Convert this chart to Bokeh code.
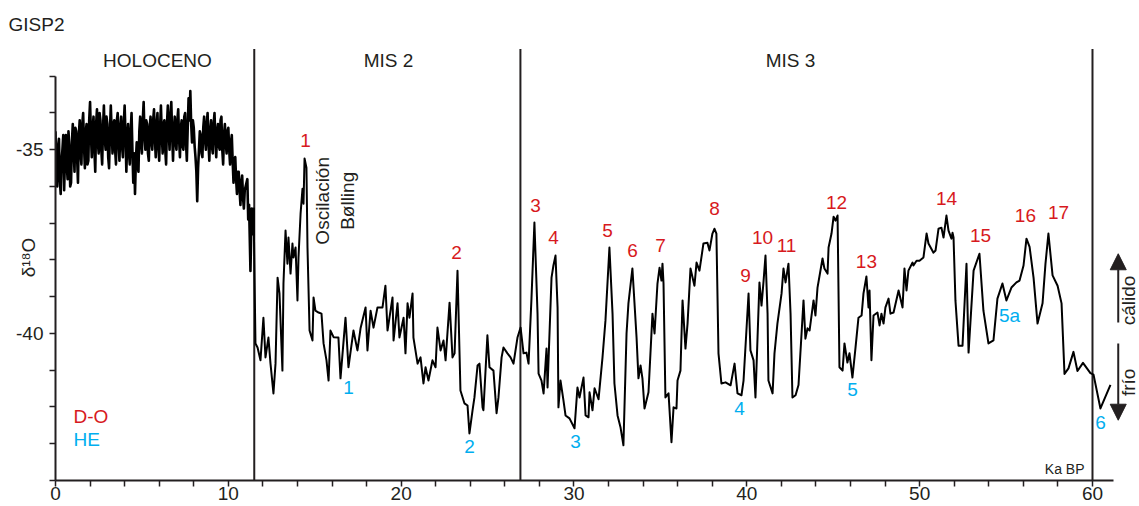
from bokeh.plotting import figure
from bokeh.models import Range1d, FixedTicker, Arrow, NormalHead
from bokeh.core.properties import value
from bokeh.embed import file_html
from bokeh.resources import INLINE

# ---------------- data ----------------
holo_age = [0.00, 0.05, 0.10, 0.15, 0.20, 0.25, 0.30, 0.35, 0.40, 0.45,
            0.50, 0.55, 0.60, 0.65, 0.70, 0.75, 0.80, 0.85, 0.90, 0.95,
            1.00, 1.05, 1.10, 1.15, 1.20, 1.25, 1.30, 1.35, 1.40, 1.45,
            1.50, 1.55, 1.60, 1.65, 1.70, 1.75, 1.80, 1.85, 1.90, 1.95,
            2.00, 2.05, 2.10, 2.15, 2.20, 2.25, 2.30, 2.35, 2.40, 2.45,
            2.50, 2.55, 2.60, 2.65, 2.70, 2.75, 2.80, 2.85, 2.90, 2.95,
            3.00, 3.05, 3.10, 3.15, 3.20, 3.25, 3.30, 3.35, 3.40, 3.45,
            3.50, 3.55, 3.60, 3.65, 3.70, 3.75, 3.80, 3.85, 3.90, 3.95,
            4.00, 4.05, 4.10, 4.15, 4.20, 4.25, 4.30, 4.35, 4.40, 4.45,
            4.50, 4.55, 4.60, 4.65, 4.70, 4.75, 4.80, 4.85, 4.90, 4.95,
            5.00, 5.05, 5.10, 5.15, 5.20, 5.25, 5.30, 5.35, 5.40, 5.45,
            5.50, 5.55, 5.60, 5.65, 5.70, 5.75, 5.80, 5.85, 5.90, 5.95,
            6.00, 6.05, 6.10, 6.15, 6.20, 6.25, 6.30, 6.35, 6.40, 6.45,
            6.50, 6.55, 6.60, 6.65, 6.70, 6.75, 6.80, 6.85, 6.90, 6.95,
            7.00, 7.05, 7.10, 7.15, 7.20, 7.25, 7.30, 7.35, 7.40, 7.45,
            7.50, 7.55, 7.60, 7.65, 7.70, 7.75, 7.80, 7.85, 7.90, 7.95,
            8.00, 8.05, 8.10, 8.15, 8.20, 8.25, 8.30, 8.35, 8.40, 8.45,
            8.50, 8.55, 8.60, 8.65, 8.70, 8.75, 8.80, 8.85, 8.90, 8.95,
            9.00, 9.05, 9.10, 9.15, 9.20, 9.25, 9.30, 9.35, 9.40, 9.45,
            9.50, 9.55, 9.60, 9.65, 9.70, 9.75, 9.80, 9.85, 9.90, 9.95,
            10.00, 10.05, 10.10, 10.15, 10.20, 10.25, 10.30, 10.35, 10.40, 10.45,
            10.50, 10.55, 10.60, 10.65, 10.70, 10.75, 10.80, 10.85, 10.90, 10.95,
            11.00, 11.10, 11.15, 11.20, 11.28, 11.35, 11.42]
holo_d18o = [-34.5, -35.6, -36.0, -34.9, -34.7, -35.8, -36.2, -35.3, -35.0, -34.6,
             -36.1, -35.2, -34.6, -35.4, -35.8, -34.5, -34.9, -36.0, -35.9, -34.8,
             -34.3, -35.0, -35.6, -34.4, -34.5, -35.2, -35.9, -34.6, -34.2, -35.1,
             -35.4, -34.3, -34.0, -34.9, -35.5, -34.5, -34.3, -35.4, -35.3, -34.2,
             -33.7, -34.6, -35.2, -34.4, -34.1, -35.0, -35.6, -34.3, -33.9, -34.8,
             -35.1, -34.0, -34.2, -35.0, -35.4, -34.4, -33.8, -34.7, -35.0, -34.1,
             -34.3, -35.2, -35.5, -34.5, -33.8, -34.5, -35.1, -34.3, -34.2, -35.0,
             -35.4, -34.2, -34.0, -34.8, -35.3, -34.4, -34.1, -34.9, -35.2, -34.3,
             -33.8, -34.6, -35.6, -34.7, -34.3, -35.1, -35.4, -34.5, -34.0, -35.0,
             -35.9, -35.1, -36.2, -35.3, -34.8, -35.4, -35.6, -34.5, -34.1, -34.8,
             -35.1, -34.2, -33.7, -34.6, -35.0, -34.2, -34.3, -35.1, -35.3, -34.4,
             -34.1, -34.8, -35.0, -34.2, -33.9, -34.7, -35.2, -34.3, -34.0, -34.9,
             -35.3, -34.4, -33.8, -34.6, -35.1, -34.3, -34.2, -35.0, -35.4, -34.3,
             -33.8, -34.5, -35.0, -34.1, -33.7, -34.6, -35.3, -34.5, -34.1, -34.8,
             -35.0, -34.2, -33.9, -34.7, -35.2, -34.4, -34.2, -34.9, -35.0, -34.1,
             -34.0, -34.8, -35.3, -34.4, -33.6, -34.2, -33.4, -34.3, -34.8, -34.2,
             -34.4, -34.9, -35.2, -35.6, -36.4, -35.5, -35.0, -34.5, -34.6, -35.1,
             -35.2, -34.4, -34.1, -34.7, -35.0, -34.3, -34.0, -34.8, -35.3, -34.5,
             -34.2, -34.9, -35.1, -34.3, -34.0, -34.7, -35.2, -34.5, -34.3, -34.9,
             -35.0, -34.2, -34.1, -35.0, -35.4, -34.6, -34.3, -34.8, -35.1, -34.5,
             -34.4, -35.0, -35.4, -34.8, -34.6, -35.3, -35.9, -35.3, -35.2, -35.8,
             -36.2, -35.6, -35.6, -36.1, -36.5, -35.9, -35.7, -36.3, -36.6, -36.1,
             -36.0, -35.8, -36.9, -36.5, -38.3, -36.6, -37.3]

glacial_age = [11.46, 11.57, 11.69, 11.86, 12.03, 12.15, 12.32, 12.44, 12.61, 12.73,
               12.85, 12.96, 13.13, 13.19, 13.31, 13.42, 13.48, 13.60, 13.71, 13.77,
               13.89, 14.00, 14.06, 14.18, 14.29, 14.35, 14.41, 14.52, 14.58, 14.70,
               14.87, 14.93, 15.04, 15.22, 15.39, 15.51, 15.68, 15.80, 15.91, 16.09,
               16.37, 16.49, 16.78, 16.95, 17.24, 17.47, 17.65, 17.94, 18.05, 18.23,
               18.40, 18.63, 18.92, 19.09, 19.21, 19.50, 19.56, 19.79, 19.90, 20.14,
               20.25, 20.37, 20.48, 20.66, 20.71, 20.95, 21.12, 21.29, 21.41, 21.58,
               21.81, 21.99, 22.10, 22.28, 22.45, 22.57, 22.80, 22.97, 23.09, 23.26,
               23.43, 23.66, 23.84, 23.95, 24.13, 24.24, 24.42, 24.53, 24.71, 24.76,
               24.99, 25.11, 25.34, 25.52, 25.63, 25.81, 25.92, 26.15, 26.33, 26.50,
               26.73, 26.91, 27.08, 27.25, 27.37, 27.54, 27.71, 27.89, 27.95, 28.12,
               28.24, 28.41, 28.47, 28.70, 28.81, 28.93, 29.05, 29.10, 29.22, 29.39,
               29.51, 29.74, 30.03, 30.20, 30.32, 30.55, 30.67, 30.84, 30.90, 31.07,
               31.19, 31.42, 31.65, 31.82, 32.05, 32.23, 32.34, 32.52, 32.69, 32.86,
               33.04, 33.15, 33.38, 33.62, 33.73, 33.85, 33.96, 34.08, 34.31, 34.54,
               34.66, 34.83, 34.95, 35.06, 35.12, 35.18, 35.29, 35.47, 35.64, 35.76,
               35.93, 35.99, 36.16, 36.28, 36.45, 36.57, 36.74, 36.97, 37.09, 37.26,
               37.49, 37.72, 37.84, 38.01, 38.13, 38.24, 38.36, 38.53, 38.77, 39.06,
               39.29, 39.46, 39.69, 39.81, 40.10, 40.21, 40.39, 40.50, 40.62, 40.73,
               40.85, 40.97, 41.08, 41.20, 41.25, 41.49, 41.60, 41.77, 42.01, 42.12,
               42.24, 42.41, 42.53, 42.64, 42.82, 42.99, 43.28, 43.39, 43.51, 43.63,
               43.86, 43.97, 44.09, 44.38, 44.49, 44.67, 44.73, 44.90, 45.02, 45.13,
               45.25, 45.36, 45.54, 45.65, 45.82, 45.94, 46.11, 46.29, 46.46, 46.64,
               46.75, 46.92, 47.04, 47.10, 47.21, 47.33, 47.56, 47.68, 47.79, 47.91,
               48.02, 48.20, 48.31, 48.49, 48.78, 49.01, 49.12, 49.24, 49.35, 49.59,
               49.64, 49.82, 49.99, 50.22, 50.40, 50.51, 50.80, 50.92, 51.09, 51.26,
               51.38, 51.55, 51.67, 51.84, 51.90, 51.96, 52.07, 52.25, 52.48, 52.71,
               52.83, 53.12, 53.46, 53.69, 53.98, 54.27, 54.50, 54.79, 55.02, 55.31,
               55.60, 55.78, 56.01, 56.18, 56.36, 56.59, 56.82, 57.11, 57.28, 57.45,
               57.69, 57.98, 58.21, 58.38, 58.61, 58.90, 59.13, 59.45, 59.88, 60.06,
               60.46, 61.04]
glacial_d18o = [-36.58, -40.27, -40.38, -40.73, -39.57, -40.65, -40.11, -40.82, -41.63, -40.82,
                -38.48, -38.91, -41.01, -38.64, -37.20, -38.10, -37.39, -38.37, -37.55, -37.93,
                -37.66, -39.10, -37.93, -36.74, -36.06, -36.47, -35.24, -35.49, -37.66, -39.92,
                -40.19, -39.02, -39.38, -39.43, -39.46, -40.27, -40.73, -41.28, -39.92, -40.10,
                -40.11, -41.22, -39.57, -40.92, -39.92, -40.46, -39.86, -39.29, -40.46, -39.38,
                -39.84, -39.29, -39.29, -38.70, -39.92, -39.02, -40.19, -39.18, -40.11, -39.57,
                -40.54, -39.18, -39.57, -38.91, -40.11, -40.82, -40.65, -41.36, -40.92, -41.28,
                -40.73, -40.92, -39.84, -40.46, -40.19, -40.73, -39.16, -40.65, -40.54, -38.29,
                -41.55, -41.90, -41.96, -42.72, -42.09, -41.74, -40.87, -40.82, -42.01, -42.09,
                -40.05, -40.92, -41.01, -42.17, -41.74, -40.65, -40.38, -40.54, -40.65, -40.82,
                -40.11, -39.84, -40.54, -40.52, -40.82, -39.05, -36.98, -39.46, -41.09, -41.28,
                -41.63, -40.41, -41.47, -38.48, -38.15, -37.88, -39.29, -42.01, -41.28, -41.82,
                -42.23, -42.31, -42.58, -41.47, -41.74, -41.20, -42.23, -42.28, -41.60, -42.09,
                -41.49, -41.79, -40.65, -39.65, -37.66, -39.46, -41.36, -42.23, -42.55, -43.04,
                -40.00, -39.18, -38.23, -40.11, -41.22, -40.87, -41.22, -42.04, -41.60, -39.46,
                -40.00, -38.64, -38.21, -38.56, -38.10, -38.64, -41.74, -41.63, -42.96, -42.01,
                -42.04, -41.28, -41.01, -39.10, -40.41, -39.73, -38.23, -38.70, -38.07, -38.29,
                -37.55, -37.53, -37.74, -37.28, -37.15, -37.28, -40.54, -41.36, -41.33, -41.41,
                -40.82, -41.63, -41.68, -41.28, -38.91, -40.46, -40.73, -41.74, -40.11, -38.61,
                -39.24, -38.56, -37.88, -39.46, -41.28, -41.63, -40.54, -39.73, -38.91, -38.23,
                -38.61, -38.10, -39.46, -41.74, -41.68, -41.40, -39.10, -40.14, -39.86, -39.92,
                -39.10, -39.51, -38.75, -37.96, -38.23, -38.37, -37.66, -37.28, -36.82, -36.93,
                -36.79, -40.92, -41.01, -40.27, -40.79, -40.54, -41.20, -40.38, -39.57, -39.51,
                -38.91, -38.45, -39.29, -38.83, -40.73, -39.51, -39.43, -39.78, -39.46, -39.73,
                -39.29, -39.05, -39.46, -39.43, -38.83, -39.29, -38.23, -38.83, -38.29, -38.07,
                -38.15, -38.02, -38.02, -37.93, -37.28, -37.55, -37.80, -37.74, -37.15, -37.12,
                -37.39, -36.79, -37.20, -37.42, -37.26, -37.39, -39.10, -40.33, -40.33, -38.10,
                -40.52, -38.29, -37.83, -39.38, -40.27, -40.19, -39.05, -38.64, -39.10, -38.75,
                -38.61, -38.56, -38.15, -37.42, -37.64, -38.48, -39.73, -39.18, -38.10, -37.28,
                -38.42, -38.70, -39.18, -41.10, -40.95, -40.50, -41.02, -40.80, -41.08, -41.12,
                -42.04, -41.40]

x_ticks = [0, 10, 20, 30, 40, 50, 60]
x_minor = [2, 4, 6, 8, 12, 14, 16, 18, 22, 24, 26, 28, 32, 34, 36, 38,
           42, 44, 46, 48, 52, 54, 56, 58]
y_ticks = [-40, -35]
y_minor = [-44, -43, -42, -41, -39, -38, -37, -36, -34, -33]

period_bounds = [11.5, 26.9, 60.0]
period_names = ["HOLOCENO", "MIS 2", "MIS 3"]

do_labels = ["1", "2", "3", "4", "5", "6", "7", "8", "9", "10",
             "11", "12", "13", "14", "15", "16", "17"]
he_labels = ["1", "2", "3", "4", "5", "5a", "6"]

# ---------------- styling / positions ----------------
FONT = "Liberation Sans"
INK = "#231f20"
RED = "#d71920"
BLUE = "#00aeef"

period_x = [5.90, 19.27, 42.53]
period_y = -32.58
do_x = [14.47, 23.20, 27.77, 28.81, 31.94, 33.38, 35.00, 38.13, 39.92, 40.91,
        42.30, 45.19, 46.92, 51.55, 53.52, 56.12, 58.03]
do_y = [-34.76, -37.80, -36.52, -37.39, -37.20, -37.74, -37.61, -36.60, -38.42, -37.39,
        -37.61, -36.44, -38.04, -36.33, -37.34, -36.79, -36.71]
he_x = [16.95, 23.95, 30.09, 39.58, 46.11, 55.20, 60.46]
he_y = [-41.47, -43.07, -42.93, -42.04, -41.52, -39.51, -42.42]

p = figure(width=1139, height=506, output_backend="svg", toolbar_location=None,
           x_range=Range1d(0, 62.72), y_range=Range1d(-44, -31.864),
           min_border_left=55, min_border_right=0, min_border_top=34,
           min_border_bottom=26)
p.outline_line_color = None
p.grid.visible = False
p.background_fill_color = "white"
p.border_fill_color = "white"

# title "GISP2" (top-left)
p.title.text = "GISP2"
p.title.align = "left"
p.title.offset = -47
p.title.standoff = 0
p.title.text_font = FONT
p.title.text_font_size = "19px"
p.title.text_font_style = "normal"
p.title.text_color = INK

xa = p.xaxis[0]
xa.ticker = FixedTicker(ticks=x_ticks, minor_ticks=x_minor)
xa.bounds = (0, 61.2)
xa.axis_line_width = 2
xa.axis_line_color = INK
xa.major_tick_in = 0
xa.major_tick_out = 6
xa.minor_tick_in = 0
xa.minor_tick_out = 6
xa.major_tick_line_width = 1.5
xa.minor_tick_line_width = 1.5
xa.major_tick_line_color = INK
xa.minor_tick_line_color = INK
xa.major_label_text_font = FONT
xa.major_label_text_font_size = "19px"
xa.major_label_text_color = INK
xa.major_label_standoff = 0

ya = p.yaxis[0]
ya.ticker = FixedTicker(ticks=y_ticks, minor_ticks=y_minor)
ya.bounds = (-44, -33)
ya.axis_line_width = 2
ya.axis_line_color = INK
ya.major_tick_in = 0
ya.major_tick_out = 6
ya.minor_tick_in = 0
ya.minor_tick_out = 6
ya.major_tick_line_width = 1.5
ya.minor_tick_line_width = 1.5
ya.major_tick_line_color = INK
ya.minor_tick_line_color = INK
ya.major_label_text_font = FONT
ya.major_label_text_font_size = "19px"
ya.major_label_text_color = INK
ya.major_label_standoff = 6
ya.major_label_overrides = {-35: "-35", -40: "-40"}
ya.axis_label = "δ¹⁸O"
ya.axis_label_text_font = FONT
ya.axis_label_text_font_size = "19px"
ya.axis_label_text_font_style = "normal"
ya.axis_label_text_color = INK
ya.axis_label_standoff = -26

# period boundaries
p.segment(x0=period_bounds, y0=[-44] * 3, x1=period_bounds, y1=[-32.26] * 3,
          line_color=INK, line_width=2)

# the record: dense Holocene part drawn a little heavier, glacial part at 2 px
p.line(holo_age + glacial_age[:1], holo_d18o + glacial_d18o[:1],
       line_color="black", line_width=2.6, line_join="round")
p.line(glacial_age, glacial_d18o, line_color="black", line_width=2, line_join="round")

txt = dict(text_font=value(FONT), text_font_size="19px",
           text_align="center", text_baseline="middle")
p.text(x=period_x, y=[period_y] * 3, text=period_names, text_color=INK, **txt)
p.text(x=do_x, y=do_y, text=do_labels, text_color=RED, **txt)
p.text(x=he_x, y=he_y, text=he_labels, text_color=BLUE, **txt)

# rotated annotations
p.text(x=[15.45, 16.89], y=[-36.39, -36.39], text=["Oscilación", "Bølling"],
       angle=1.5708, text_color=INK, **txt)
p.text(x=[62.06, 62.06], y=[-39.10, -41.33], text=["cálido", "frío"],
       angle=1.5708, text_color=INK, **txt)

# legend text
p.text(x=[1.04, 1.04], y=[-42.26, -42.88], text=["D-O", "HE"], text_color=[RED, BLUE],
       text_font=value(FONT), text_font_size="19px", text_align="left",
       text_baseline="middle")

# Ka BP
p.text(x=[59.54], y=[-43.70], text=["Ka BP"], text_color=INK, text_font=value(FONT),
       text_font_size="14px", text_align="right", text_baseline="middle")

# arrows (cálido / frío)
p.add_layout(Arrow(end=NormalHead(size=16, fill_color=INK, line_color=INK),
                   x_start=61.49, y_start=-39.70, x_end=61.49, y_end=-37.83,
                   line_color=INK, line_width=2))
p.add_layout(Arrow(end=NormalHead(size=16, fill_color=INK, line_color=INK),
                   x_start=61.49, y_start=-40.27, x_end=61.49, y_end=-42.36,
                   line_color=INK, line_width=2))

open("out.html", "w").write(file_html(p, INLINE))
